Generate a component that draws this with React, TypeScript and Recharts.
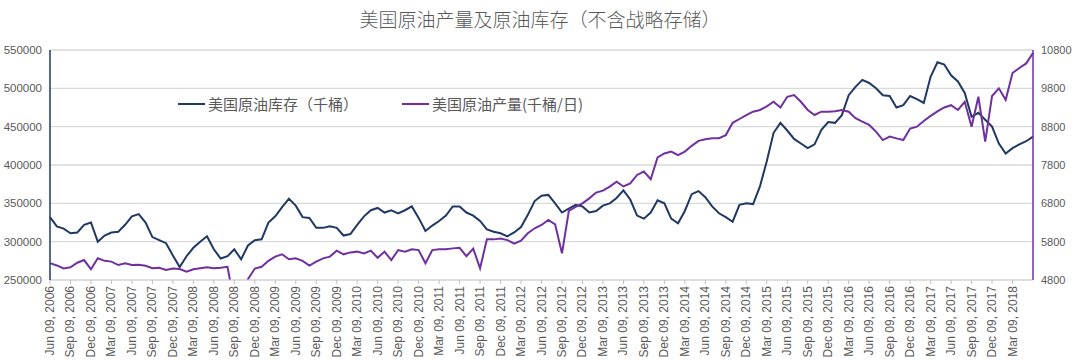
import React from 'react';
import { LineChart, Line, XAxis, YAxis, CartesianGrid, Legend } from 'recharts';

// monthly readings, Jun 2006 .. Jun 2018
const inventory = [
  332000, 320000, 317000, 311000, 312000, 322000, 325000, 300000, 308000, 312000,
  313000, 322000, 333000, 336000, 325000, 306000, 302000, 298000, 282000, 267000,
  281000, 292000, 300000, 307000, 290000, 278000, 281000, 290000, 277000, 295000,
  302000, 303000, 325000, 333000, 345000, 356000, 347000, 332000, 331000, 318000,
  318000, 320000, 318000, 308000, 310000, 322000, 333000, 341000, 344000, 338000,
  341000, 337000, 341000, 346000, 331000, 314000, 321000, 327000, 334000, 346000,
  346000, 338000, 334000, 327000, 316000, 313000, 311000, 307000, 312000, 319000,
  335000, 353000, 360000, 361000, 350000, 338000, 343000, 348000, 346000, 338000,
  340000, 347000, 350000, 357000, 367000, 355000, 334000, 330000, 338000, 354000,
  350000, 330000, 324000, 340000, 362000, 366000, 358000, 346000, 337000, 332000,
  326000, 348000, 350000, 349000, 372000, 405000, 442000, 455000, 445000, 434000,
  428000, 422000, 427000, 446000, 456000, 455000, 465000, 491000, 502000, 511000,
  507000, 500000, 491000, 490000, 475000, 478000, 490000, 486000, 481000, 515000,
  534000, 531000, 517000, 509000, 494000, 463000, 468000, 459000, 450000, 428000,
  415000, 422000, 427000, 431000, 437000,
];

const production = [
  5240, 5180, 5100, 5130, 5250, 5320, 5080, 5365, 5300, 5280,
  5190, 5235, 5190, 5200, 5170, 5105, 5120, 5060, 5100, 5085,
  5015, 5080, 5105, 5130, 5105, 5120, 5145, 4200, 4400, 4820,
  5100, 5145, 5300, 5410, 5470, 5340, 5365, 5300, 5175, 5280,
  5365, 5410, 5565, 5470, 5520, 5540, 5495, 5565, 5380, 5540,
  5320, 5580, 5540, 5600, 5580, 5235, 5580, 5605, 5605, 5625,
  5640, 5420, 5620, 5105, 5860, 5860, 5885, 5840, 5750, 5825,
  6020, 6150, 6235, 6365, 6250, 5495, 6600, 6710, 6800, 6930,
  7080, 7130, 7235, 7365, 7240, 7320, 7540, 7630, 7430, 8000,
  8100, 8150, 8060, 8150, 8300, 8430, 8470, 8495, 8500, 8580,
  8900, 9000, 9100, 9190, 9235, 9330, 9450, 9300, 9580, 9625,
  9450, 9235, 9105, 9190, 9190, 9200, 9235, 9190, 9020, 8930,
  8845, 8670, 8450, 8540, 8495, 8450, 8750, 8800, 8950, 9080,
  9200, 9300, 9360, 9235, 9450, 8800, 9580, 8410, 9600, 9800,
  9500, 10200, 10330, 10450, 10720,
];

const leftTicks = [250000, 300000, 350000, 400000, 450000, 500000, 550000];
const rightTicks = [4800, 5800, 6800, 7800, 8800, 9800, 10800];

const monthNames = ['Jan', 'Feb', 'Mar', 'Apr', 'May', 'Jun', 'Jul', 'Aug', 'Sep', 'Oct', 'Nov', 'Dec'];
const months = inventory.map((_, i) => {
  const t = 5 + i;
  return `${monthNames[t % 12]} 09, ${2006 + Math.floor(t / 12)}`;
});
const quarterTicks = months.filter((_, i) => i % 3 === 0 && i < 144);

const data = months.map((date, i) => ({
  date,
  inventory: inventory[i],
  production: production[i],
}));

const NAVY = '#1F3864';
const PURPLE = '#7030A0';
const TEXT = '#595959';

const DateTick = ({ x, y, payload }: any) => (
  <g transform={`translate(${x},${y})`}>
    <text
      transform="rotate(-90)"
      x={0}
      y={0}
      dy={4}
      textAnchor="end"
      fontSize={12}
      fill={TEXT}
      fontFamily="Liberation Sans, Arial, sans-serif"
    >
      {payload.value}
    </text>
  </g>
);

const renderLegend = () => (
  <div style={{ display: 'flex', alignItems: 'center', fontFamily: '"Noto Sans CJK SC", sans-serif', fontSize: 15, color: TEXT, whiteSpace: 'nowrap' }}>
    <span style={{ display: 'inline-block', width: 27, height: 2, background: NAVY, marginRight: 3 }} />
    <span>美国原油库存（千桶）</span>
    <span style={{ display: 'inline-block', width: 27, height: 2, background: PURPLE, marginLeft: 44, marginRight: 3 }} />
    <span>美国原油产量(千桶/日)</span>
  </div>
);

export default function App() {
  return (
    <div style={{ position: 'absolute', left: 0, top: 0, width: 1080, height: 360, background: '#fff' }}>
      <div
        style={{
          position: 'absolute',
          top: 5,
          left: 0,
          width: 1080,
          textAlign: 'center',
          fontFamily: '"Noto Sans CJK SC", sans-serif',
          fontSize: 19,
          color: TEXT,
          fontWeight: 300,
        }}
      >
        美国原油产量及原油库存（不含战略存储）
      </div>
      <LineChart width={1080} height={360} data={data} margin={{ top: 50, right: 0, left: 0, bottom: 0 }}>
        <CartesianGrid vertical={false} stroke="#d9d9d9" strokeWidth={1.3} />
        <XAxis
          dataKey="date"
          ticks={quarterTicks}
          interval={0}
          height={80}
          tick={<DateTick />}
          tickSize={4}
          tickMargin={2}
          tickLine={{ stroke: '#bfbfbf' }}
          axisLine={{ stroke: '#d9d9d9' }}
        />
        <YAxis
          domain={[250000, 550000]}
          ticks={leftTicks}
          allowDataOverflow
          width={50}
          tickLine={false}
          tickSize={2}
          tickMargin={6}
          axisLine={{ stroke: NAVY, strokeWidth: 1.5 }}
          tick={{ fontSize: 11.5, fill: TEXT, fontFamily: 'Liberation Sans, Arial, sans-serif' }}
        />
        <YAxis
          yAxisId="right"
          orientation="right"
          domain={[4800, 10800]}
          ticks={rightTicks}
          allowDataOverflow
          width={47}
          tickLine={false}
          tickSize={2}
          tickMargin={6}
          axisLine={{ stroke: PURPLE, strokeWidth: 1.5 }}
          tick={{ fontSize: 11, fill: TEXT, fontFamily: 'Liberation Sans, Arial, sans-serif' }}
        />
        <Legend
          verticalAlign="middle"
          align="center"
          content={renderLegend}
          wrapperStyle={{ top: 93, left: 178, width: 'auto' }}
        />
        <Line
          type="linear"
          dataKey="inventory"
          name="美国原油库存（千桶）"
          stroke={NAVY}
          strokeWidth={2}
          dot={false}
          isAnimationActive={false}
        />
        <Line
          type="linear"
          dataKey="production"
          name="美国原油产量(千桶/日)"
          yAxisId="right"
          stroke={PURPLE}
          strokeWidth={2}
          dot={false}
          isAnimationActive={false}
        />
      </LineChart>
    </div>
  );
}
